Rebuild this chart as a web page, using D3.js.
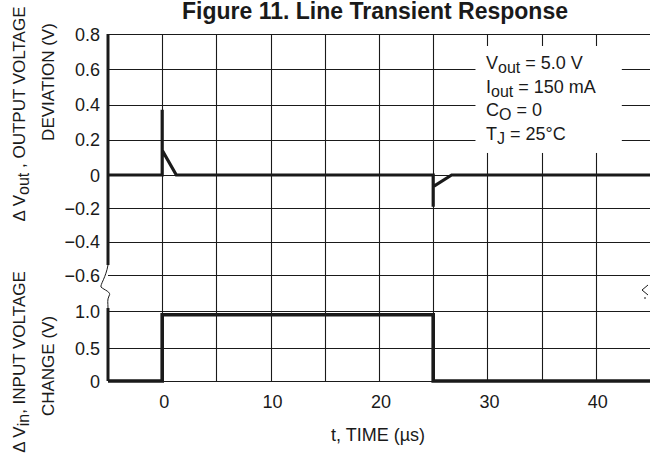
<!DOCTYPE html>
<html>
<head>
<meta charset="utf-8">
<script src="https://cdn.jsdelivr.net/npm/d3@7"></script>
<style>
  html, body { margin: 0; padding: 0; background: #fff; }
  svg { display: block; }
  .narrow { font-family: "Liberation Sans Narrow", "Arial Narrow", "Liberation Sans", Arial, sans-serif; }
</style>
</head>
<body>
<svg id="chart" width="650" height="459"></svg>
<script>
// Time axis (µs)
const timeTicks = [0, 10, 20, 30, 40];
const timeGrid = [0, 5, 10, 15, 20, 25, 30, 35, 40];

// Output voltage deviation (V)
const outTicks = [0.8, 0.6, 0.4, 0.2, 0, -0.2, -0.4, -0.6];
const outTickLabels = ["0.8", "0.6", "0.4", "0.2", "0", "\u22120.2", "\u22120.4", "\u22120.6"];
const outTime = [-5, 0, 0, 0, 1.3, 25, 25, 25, 26.7, 45];
const outDev = [0, 0, 0.37, 0.14, 0, 0, -0.19, -0.07, 0, 0];

// Input voltage change (V)
const inTicks = [1.0, 0.5, 0];
const inTickLabels = ["1.0", "0.5", "0"];
const inTime = [-5, 0, 0, 25, 25, 45];
const inChange = [0, 0, 0.95, 0.95, 0, 0];

// Test conditions
const conditions = [
  ["V", "out", " = 5.0 V"],
  ["I", "out", " = 150 mA"],
  ["C", "O", " = 0"],
  ["T", "J", " = 25\u00B0C"]
];

const svg = d3.select("#chart");

const x = d3.scaleLinear().domain([-5, 45]).range([108, 650]);
const yOut = d3.scaleLinear().domain([0.8, 0, -0.6]).range([34, 175, 275]);
const yIn = d3.scaleLinear().domain([0, 0.5, 1]).range([381, 348, 311]);

const plotTop = yOut(0.8), plotBottom = yIn(0);
const ink = "#1a1a1a";

// Grid: vertical lines span both panels
const grid = svg.append("g").attr("stroke", ink).attr("stroke-width", 1.1);
grid.selectAll("line.v").data(timeGrid).join("line")
  .attr("class", "v")
  .attr("x1", d => Math.round(x(d)) + 0.5).attr("x2", d => Math.round(x(d)) + 0.5)
  .attr("y1", plotTop).attr("y2", plotBottom);
grid.selectAll("line.ho").data(outTicks).join("line")
  .attr("class", "ho")
  .attr("x1", x(-5)).attr("x2", x(45))
  .attr("y1", d => Math.round(yOut(d)) + 0.5).attr("y2", d => Math.round(yOut(d)) + 0.5);
grid.selectAll("line.hi").data(inTicks).join("line")
  .attr("class", "hi")
  .attr("x1", x(-5)).attr("x2", x(45))
  .attr("y1", d => Math.round(yIn(d)) + 0.5).attr("y2", d => Math.round(yIn(d)) + 0.5);

// Left axis line with a break between the two panels
const axisLeft = x(-5);
const brk = yOut(-0.6);
svg.append("path")
  .attr("fill", "none").attr("stroke", ink).attr("stroke-width", 3)
  .attr("d", `M${axisLeft},${plotTop}V${brk - 10}`);
svg.append("path")
  .attr("fill", "none").attr("stroke", ink).attr("stroke-width", 3)
  .attr("d", `M${axisLeft},${yIn(1) - 3}V${plotBottom}`);
svg.append("path")
  .attr("fill", "none").attr("stroke", ink).attr("stroke-width", 1)
  .attr("d", `M${axisLeft},${brk - 10}C${axisLeft - 2},${brk + 2} ${axisLeft - 8},${brk + 10} ${axisLeft - 7},${brk + 12}` +
             `C${axisLeft - 4},${brk + 15} ${axisLeft + 4},${brk + 17} ${axisLeft + 1},${brk + 21}` +
             `C${axisLeft - 1},${brk + 25} ${axisLeft},${brk + 28} ${axisLeft},${yIn(1) - 3}`);
// Break mark at right edge
const rightX = x(45);
svg.append("path")
  .attr("fill", "none").attr("stroke", ink).attr("stroke-width", 1)
  .attr("d", `M${rightX - 2},${brk + 10}L${rightX - 8},${brk + 15}L${rightX - 2},${brk + 20}M${rightX - 5},${brk + 22}L${rightX - 5},${brk + 24}`);

// Conditions box clears the grid behind it
svg.append("rect")
  .attr("x", x(28.9)).attr("y", yOut(0.732))
  .attr("width", x(42.4) - x(28.9)).attr("height", yOut(0.125) - yOut(0.732))
  .attr("fill", "#fff");

const cond = svg.append("g").attr("class", "narrow").attr("font-size", 18).attr("fill", ink);
conditions.forEach((c, i) => {
  const t = cond.append("text").attr("x", 486).attr("y", 69 + i * 23.5);
  t.append("tspan").text(c[0]);
  t.append("tspan").attr("dy", 4).attr("font-size", 16).text(c[1]);
  t.append("tspan").attr("dy", -4).text(c[2]);
});

// Traces
const lineOut = d3.line().x((d, i) => x(outTime[i])).y(d => yOut(d));
const lineIn = d3.line().x((d, i) => x(inTime[i])).y(d => yIn(d));
svg.append("path").datum(outDev)
  .attr("fill", "none").attr("stroke", ink).attr("stroke-width", 3.2)
  .attr("stroke-linejoin", "miter").attr("stroke-miterlimit", 2)
  .attr("d", lineOut);
svg.append("path").datum(inChange)
  .attr("fill", "none").attr("stroke", ink).attr("stroke-width", 3.6)
  .attr("stroke-linejoin", "miter")
  .attr("d", lineIn);

// Tick labels
const lab = svg.append("g").attr("class", "narrow").attr("font-size", 18).attr("fill", ink);
lab.selectAll("text.yo").data(outTicks).join("text")
  .attr("class", "yo")
  .attr("x", 100).attr("y", d => yOut(d) + 6.5)
  .attr("text-anchor", "end")
  .text((d, i) => outTickLabels[i]);
lab.selectAll("text.yi").data(inTicks).join("text")
  .attr("class", "yi")
  .attr("x", 100).attr("y", d => yIn(d) + 6.5)
  .attr("text-anchor", "end")
  .text((d, i) => inTickLabels[i]);
lab.selectAll("text.xt").data(timeTicks).join("text")
  .attr("class", "xt")
  .attr("x", d => x(d) + 2).attr("y", 408)
  .attr("text-anchor", "middle")
  .text(d => d);

// Axis titles
lab.append("text").attr("x", 378).attr("y", 441).attr("text-anchor", "middle").text("t, TIME (\u00B5s)");

function vLabel(cx, cy, parts) {
  const t = lab.append("text")
    .attr("transform", `translate(${cx},${cy}) rotate(-90)`)
    .attr("text-anchor", "middle").attr("font-size", 17);
  parts.forEach(p => {
    const s = t.append("tspan").text(p.t);
    if (p.dy) s.attr("dy", p.dy);
    if (p.fs) s.attr("font-size", p.fs);
  });
}
vLabel(25, 114, [{t: "\u0394 V"}, {t: "out", dy: 4, fs: 16}, {t: " , OUTPUT VOLTAGE", dy: -4}]);
vLabel(54, 82, [{t: "DEVIATION (V)"}]);
vLabel(25, 362, [{t: "\u0394 V"}, {t: "in", dy: 4, fs: 16}, {t: ", INPUT VOLTAGE", dy: -4}]);
vLabel(54, 366, [{t: "CHANGE (V)"}]);

// Title
svg.append("text")
  .attr("x", 375).attr("y", 19)
  .attr("text-anchor", "middle")
  .attr("font-family", "'Liberation Sans', Arial, sans-serif")
  .attr("font-weight", "bold").attr("font-size", 23)
  .attr("fill", ink)
  .text("Figure 11. Line Transient Response");
</script>
</body>
</html>
